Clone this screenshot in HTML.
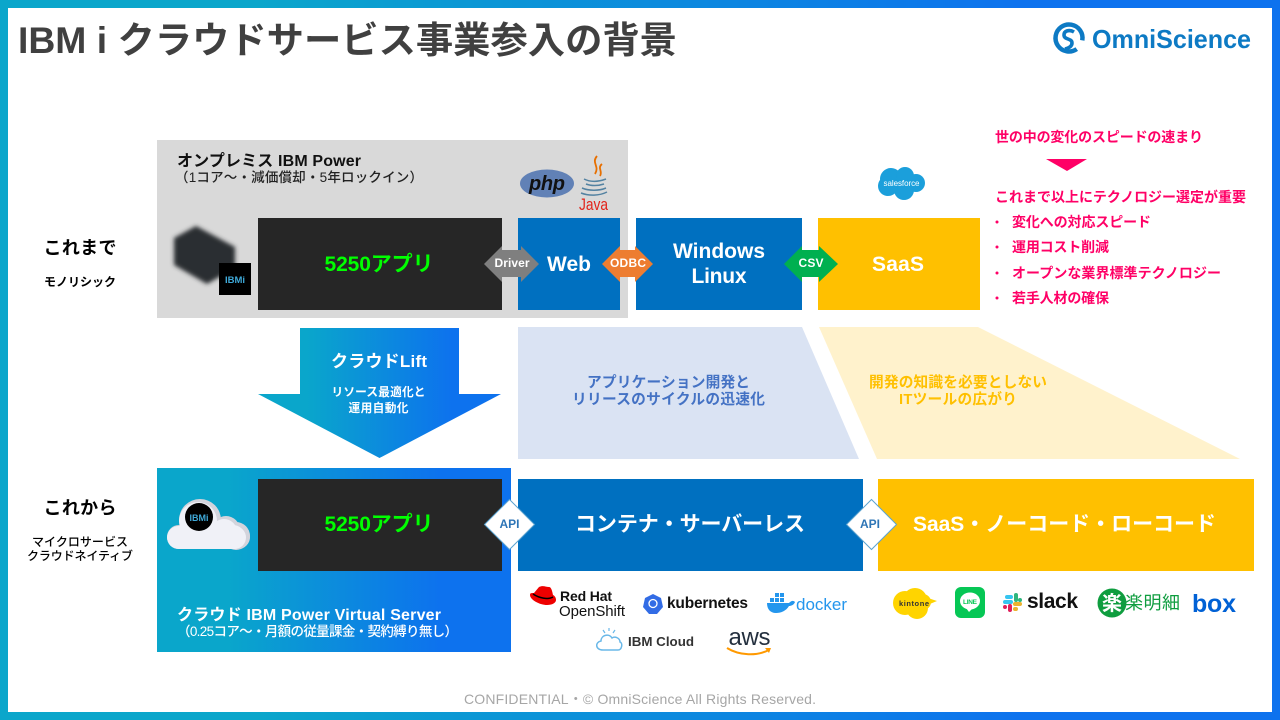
<!DOCTYPE html>
<html lang="ja"><head><meta charset="utf-8"><title>IBM i クラウドサービス事業参入の背景</title>
<style>
html,body{margin:0;padding:0;background:#fff;width:1280px;height:720px;overflow:hidden}
svg{display:block}
text{font-family:"Liberation Sans","Noto Sans CJK JP",sans-serif;font-weight:700}
.m{text-anchor:middle}
.w{fill:#fff}
.p{fill:#ff0066;font-size:14px}
.r{font-weight:400}
.h{font-weight:500}
</style></head><body>
<svg width="1280" height="720" viewBox="0 0 1280 720" xmlns="http://www.w3.org/2000/svg">
<defs>
<linearGradient id="g" x1="0" y1="0" x2="1" y2="0"><stop offset=".2" stop-color="#0aa6cb"/><stop offset=".8" stop-color="#0d72ee"/></linearGradient>
<linearGradient id="g2" x1="258" y1="0" x2="501" y2="0" gradientUnits="userSpaceOnUse"><stop offset=".2" stop-color="#0aa6cb"/><stop offset=".8" stop-color="#0d72ee"/></linearGradient>
<linearGradient id="g3" x1="157" y1="0" x2="511" y2="0" gradientUnits="userSpaceOnUse"><stop offset=".2" stop-color="#0aa6cb"/><stop offset=".8" stop-color="#0d72ee"/></linearGradient>
<filter id="b" x="-20%" y="-20%" width="140%" height="140%"><feGaussianBlur stdDeviation="2.2"/></filter>
</defs>
<rect width="1280" height="720" fill="url(#g)"/>
<rect x="8" y="8" width="1264" height="704" fill="#fff"/>

<text x="18" y="53" font-size="37" fill="#404040" textLength="659" lengthAdjust="spacingAndGlyphs">IBM i クラウドサービス事業参入の背景</text>

<!-- logo -->
<circle cx="1069" cy="38" r="13.500" fill="none" stroke="#0d7ac4" stroke-width="4.500" stroke-dasharray="74 11" transform="rotate(55 1069 38)"/>
<path d="M1074 32c-5-3-10-1-10 3 0 5 8 3 8 8 0 3-3 5-7 6" fill="none" stroke="#0d7ac4" stroke-width="3.600"/>
<text x="1092" y="48" font-size="26" fill="#0d7ac4" textLength="159" lengthAdjust="spacingAndGlyphs">OmniScience</text>

<!-- gray panel -->
<rect x="157" y="140" width="471" height="178" fill="#d9d9d9"/>
<text x="177" y="166" font-size="16" fill="#111" textLength="184">オンプレミス IBM Power</text>
<text x="175" y="182" font-size="13.500" fill="#222" class="h" textLength="248">（1コア～・減価償却・5年ロックイン）</text>

<path d="M174 238l22-12 39 21v21l-28 16-33-19z" fill="#2b2d30" filter="url(#b)"/>
<rect x="219" y="263" width="32" height="32" fill="#000"/>
<text x="235" y="283" class="m" font-size="9.500" fill="#3fa9d8">IBMi</text>

<rect x="258" y="218" width="244" height="92" fill="#262626"/>
<text x="379" y="271" class="m" font-size="21" fill="#00ff00" textLength="109">5250アプリ</text>
<rect x="518" y="218" width="102" height="92" fill="#0070c0"/>
<text x="569" y="271" class="m w" font-size="21" textLength="44">Web</text>
<rect x="636" y="218" width="166" height="92" fill="#0070c0"/>
<text x="719" y="258" class="m w" font-size="21" textLength="92">Windows</text>
<text x="719" y="283" class="m w" font-size="21" textLength="55">Linux</text>
<rect x="818" y="218" width="162" height="92" fill="#ffc000"/>
<text x="898" y="271" class="m w" font-size="21" textLength="52">SaaS</text>

<!-- double arrows -->
<path d="M484 264l18-18v4h19v-4l18 18-18 18v-5h-19v5z" fill="#7f7f7f"/>
<text x="512" y="267" class="m w" font-size="12" textLength="35">Driver</text>
<path d="M602 264l18-18v4h15v-4l18 18-18 18v-5h-15v5z" fill="#ed7d31"/>
<text x="628" y="267" class="m w" font-size="12" textLength="36">ODBC</text>
<path d="M784 264l18-18v4h17v-4l19 18-19 18v-5h-17v5z" fill="#00b050"/>
<text x="811" y="267" class="m w" font-size="12" textLength="25">CSV</text>

<!-- php / java -->
<ellipse cx="547" cy="183.500" rx="27" ry="14" fill="#6181b6"/>
<text x="547" y="190" class="m" font-size="20" font-style="italic" fill="#111" textLength="36">php</text>
<path d="M597 156c-6 7 3 10-2 18M602 164c-5 4 1 7-2 12" fill="none" stroke="#e76f00" stroke-width="1.800"/>
<path d="M584 179c6 3 14 3 22 0M586 184c5 2 12 2 18 0M582 188c7 3 17 3 24 0M581 193c8 3 18 3 26-1" fill="none" stroke="#5382a1" stroke-width="1.500"/>
<text x="593.500" y="210" class="m r" font-size="17" fill="#e2231a" textLength="29" lengthAdjust="spacingAndGlyphs">Java</text>

<!-- salesforce -->
<g fill="#1b9fdb"><circle cx="891" cy="179" r="11"/><circle cx="905" cy="176" r="9"/><circle cx="916" cy="183" r="9"/><circle cx="904" cy="190" r="10"/><circle cx="888" cy="186" r="10"/></g>
<text x="901.500" y="186" class="m w r" font-size="8" textLength="36">salesforce</text>

<!-- pink column -->
<text x="995" y="142" class="p" textLength="208">世の中の変化のスピードの速まり</text>
<path d="M1046 159h41l-20 12z" fill="#ff0066"/>
<text x="995" y="202" class="p" textLength="251">これまで以上にテクノロジー選定が重要</text>
<circle cx="997" cy="222" r="1.500" fill="#ff0066"/>
<text x="1012" y="227" class="p" textLength="139">変化への対応スピード</text>
<circle cx="997" cy="247" r="1.500" fill="#ff0066"/>
<text x="1012" y="252" class="p" textLength="97">運用コスト削減</text>
<circle cx="997" cy="273" r="1.500" fill="#ff0066"/>
<text x="1012" y="278" class="p" textLength="209">オープンな業界標準テクノロジー</text>
<circle cx="997" cy="298" r="1.500" fill="#ff0066"/>
<text x="1012" y="303" class="p" textLength="97">若手人材の確保</text>

<!-- left labels -->
<text x="80" y="254" class="m" font-size="18" fill="#000" textLength="73">これまで</text>
<text x="80" y="286" class="m" font-size="12" fill="#000" textLength="72">モノリシック</text>
<text x="80" y="514" class="m" font-size="18" fill="#000" textLength="73">これから</text>
<text x="80" y="546" class="m h" font-size="12" fill="#000" textLength="96">マイクロサービス</text>
<text x="80" y="560" class="m h" font-size="12" fill="#000" textLength="106">クラウドネイティブ</text>

<!-- big arrow -->
<path d="M300 328h159v66h42l-121.500 64L258 394h42z" fill="url(#g2)"/>
<text x="379" y="367" class="m w" font-size="17" textLength="96">クラウドLift</text>
<text x="378.500" y="396" class="m w" font-size="11.700" textLength="94">リソース最適化と</text>
<text x="378.500" y="412" class="m w" font-size="11.700" textLength="60">運用自動化</text>

<!-- trapezoids -->
<path d="M518 327h284l57 132H518z" fill="#dae3f3"/>
<text x="668.500" y="387" class="m" font-size="14.700" fill="#4472c4" textLength="163">アプリケーション開発と</text>
<text x="668.500" y="404" class="m" font-size="14.700" fill="#4472c4" textLength="193">リリースのサイクルの迅速化</text>
<path d="M819 327h159l262 132H877z" fill="#fff2cc"/>
<text x="958" y="387" class="m" font-size="14.700" fill="#ffc000" textLength="178">開発の知識を必要としない</text>
<text x="958" y="404" class="m" font-size="14.700" fill="#ffc000" textLength="118">ITツールの広がり</text>

<!-- cloud panel -->
<rect x="157" y="468" width="354" height="184" fill="url(#g3)"/>
<g fill="#d3d4dc"><circle cx="200" cy="520" r="21"/><circle cx="226" cy="530" r="14"/><circle cx="236" cy="536" r="14"/><rect x="167" y="525" width="83" height="24" rx="12"/></g>
<g fill="#f0f1f7"><circle cx="198" cy="521" r="19"/><circle cx="224" cy="532" r="13"/><circle cx="233" cy="537" r="12"/><rect x="167" y="526" width="79" height="23" rx="11.500"/></g>
<circle cx="199" cy="517" r="14" fill="#000"/>
<text x="199" y="521" class="m" font-size="9" fill="#3fa9d8">IBMi</text>
<rect x="258" y="479" width="244" height="92" fill="#262626"/>
<text x="379" y="531" class="m" font-size="21" fill="#00ff00" textLength="109">5250アプリ</text>
<text x="177" y="620" class="w" font-size="16" textLength="264">クラウド IBM Power Virtual Server</text>
<text x="177" y="636" class="w h" font-size="13.500" textLength="281">（0.25コア～・月額の従量課金・契約縛り無し）</text>

<rect x="518" y="479" width="345" height="92" fill="#0070c0"/>
<text x="690" y="531" class="m w" font-size="21" textLength="230">コンテナ・サーバーレス</text>
<rect x="878" y="479" width="376" height="92" fill="#ffc000"/>
<text x="1064.500" y="531" class="m w" font-size="21" textLength="303">SaaS・ノーコード・ローコード</text>

<path d="M484.500 524.500L509.500 499.500 534.500 524.500 509.500 549.500z" fill="#fff" stroke="#5ba3d0"/>
<text x="509.500" y="528" class="m" font-size="12" fill="#2e75b6" textLength="20">API</text>
<path d="M846.500 524.500L871.500 499.500 896.500 524.500 871.500 549.500z" fill="#fff" stroke="#5ba3d0"/>
<text x="870" y="528" class="m" font-size="12" fill="#2e75b6" textLength="20">API</text>

<!-- logos row 1 -->
<path d="M539 587c4-2 7 0 10 0 2 0 3 3 4 8 2 1 3 3 3 5 0 3-4 5-9 5-7 0-17-5-17-10 0-2 1-2 4-2z" fill="#ee0000"/>
<path d="M533 594c6 4 15 6 20 3" fill="none" stroke="#000" stroke-width="1.500"/>
<text x="560" y="601" font-size="14" fill="#111" textLength="52">Red Hat</text>
<text x="559" y="616" font-size="15" class="r" fill="#111" textLength="66">OpenShift</text>
<path d="M653 594l8 4 2 9-6 7h-8l-6-7 2-9z" fill="#326ce5"/>
<circle cx="653" cy="603.500" r="4" fill="none" stroke="#fff" stroke-width="1.300"/>
<text x="667" y="608" font-size="15.500" fill="#111" textLength="81">kubernetes</text>
<path d="M767 603h22c2-2 4-3 6-1-1 3-4 4-6 4-3 5-8 7-13 7-6 0-9-4-9-10z" fill="#2496ed"/>
<g fill="#2496ed"><rect x="770" y="598" width="4" height="4"/><rect x="775" y="598" width="4" height="4"/><rect x="780" y="598" width="4" height="4"/><rect x="775" y="593" width="4" height="4"/><rect x="780" y="593" width="4" height="4"/></g>
<text x="796" y="610" font-size="17" class="r" fill="#2496ed" textLength="51">docker</text>
<path d="M603 650c-8 0-8-8-2-9 0-6 8-8 11-3 3-2 8 0 8 4 3 1 2 8-2 8z" fill="none" stroke="#6ab8e8" stroke-width="1.500"/>
<path d="M603 630l2 3M609 628v3M615 630l-2 3" stroke="#6ab8e8" stroke-width="1.200"/>
<text x="628" y="646" font-size="13" fill="#333" textLength="66" lengthAdjust="spacingAndGlyphs">IBM Cloud</text>
<text x="749.500" y="645" class="m r" font-size="24" fill="#232f3e" textLength="42">aws</text>
<path d="M727 648c13 8 30 8 42 2" fill="none" stroke="#ff9900" stroke-width="2"/>
<path d="M765 648l6 0-2 5z" fill="#ff9900"/>

<!-- logos row 2 -->
<g fill="#ffd400"><circle cx="905" cy="603" r="12"/><circle cx="915" cy="600" r="12"/><circle cx="917" cy="608" r="11"/><circle cx="923" cy="602" r="8"/><path d="M925 597l12 4-12 5z"/></g>
<text x="914" y="606" class="m" font-size="7.500" fill="#333" textLength="30">kintone</text>
<rect x="955" y="587" width="30" height="31" rx="6" fill="#06c755"/>
<ellipse cx="970" cy="601" rx="10" ry="8.500" fill="#fff"/><path d="M966 608l3 4 4-4z" fill="#fff"/>
<text x="970" y="604" class="m" font-size="6.500" fill="#06c755" textLength="14">LINE</text>
<g stroke-width="4" stroke-linecap="round"><path d="M1005 602h6" stroke="#36c5f0"/><path d="M1007 597h4" stroke="#36c5f0"/><path d="M1016 595v5" stroke="#2eb67d"/><path d="M1020 600h0" stroke="#2eb67d"/><path d="M1015 604h5" stroke="#ecb22e"/><path d="M1015 609h1" stroke="#ecb22e"/><path d="M1010 606v4" stroke="#e01e5a"/><path d="M1005 607h0" stroke="#e01e5a"/></g>
<text x="1027" y="608" font-size="21" fill="#111" textLength="51">slack</text>
<circle cx="1112" cy="603" r="14.500" fill="#0f9d3f"/>
<text x="1112" y="610" class="m w" font-size="20">楽</text>
<text x="1125" y="609" font-size="18" class="r" fill="#0f9d3f" textLength="55">楽明細</text>
<text x="1192" y="612" font-size="25" fill="#0061d5" textLength="44">box</text>

<text x="640" y="704" class="m r" font-size="14" fill="#a6a6a6" textLength="352">CONFIDENTIAL・© OmniScience All Rights Reserved.</text>
</svg>
</body></html>
